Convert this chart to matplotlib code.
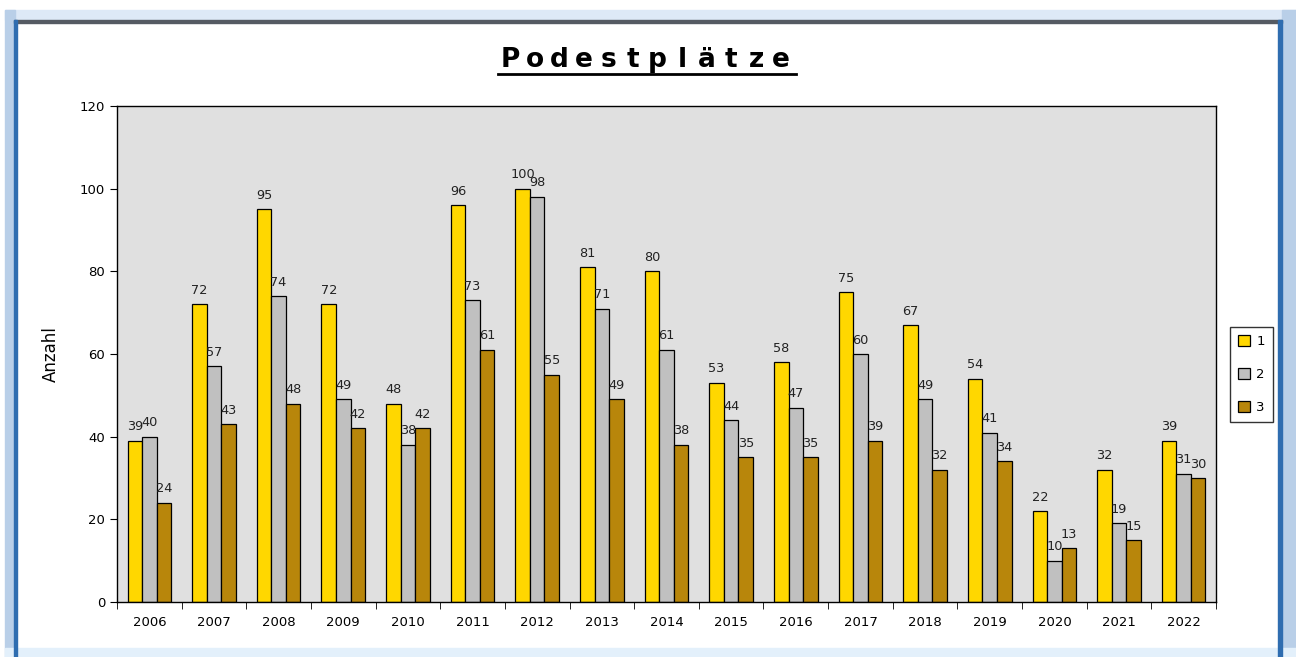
import matplotlib.pyplot as plt
from matplotlib.patches import Rectangle
import numpy as np

years = ['2006', '2007', '2008', '2009', '2010', '2011', '2012', '2013', '2014',
         '2015', '2016', '2017', '2018', '2019', '2020', '2021', '2022']
first = [39, 72, 95, 72, 48, 96, 100, 81, 80, 53, 58, 75, 67, 54, 22, 32, 39]
second = [40, 57, 74, 49, 38, 73, 98, 71, 61, 44, 47, 60, 49, 41, 10, 19, 31]
third = [24, 43, 48, 42, 42, 61, 55, 49, 38, 35, 35, 39, 32, 34, 13, 15, 30]
series = [('1', first, '#FFD700'), ('2', second, '#C0C0C0'), ('3', third, '#B8860B')]

W, H = 1296, 657
fig = plt.figure(figsize=(W / 100, H / 100), dpi=100)
fig.patch.set_facecolor('white')

# window frame around the chart
def px(x0, y0, w, h, color):
    fig.patches.append(Rectangle((x0 / W, 1 - (y0 + h) / H), w / W, h / H,
                                 transform=fig.transFigure, color=color, zorder=0))

px(5, 10, W - 5, 10, '#dde9f7')
px(5, 10, 10, H - 10, '#b9cfe8')
px(1282, 10, 14, H - 10, '#b9cfe8')
px(5, 648, W - 5, 9, '#e3f0fb')
px(14, 20, 1268, 3, '#555b63')
px(14, 20, 3, H - 20, '#2f6db0')
px(1278, 20, 4, H - 20, '#2f6db0')

ax = fig.add_axes([117 / W, 1 - 602 / H, (1216 - 117) / W, (602 - 106) / H])
ax.set_facecolor('#E0E0E0')

x = np.arange(len(years))
bw = 0.225
for i, (name, vals, col) in enumerate(series):
    pos = x + (i - 1) * bw
    ax.bar(pos, vals, bw, color=col, edgecolor='black', linewidth=0.9, label=name, zorder=2)
    for p, v in zip(pos, vals):
        ax.text(p, v + 1.8, str(v), ha='center', va='bottom', fontsize=9.3,
                color='#222222', zorder=3)

ax.set_xlim(-0.5, len(years) - 0.5)
ax.set_ylim(0, 120)
ax.set_yticks(range(0, 121, 20))
ax.set_xticks(x)
ax.set_xticklabels(years)
ax.set_xticks(np.arange(len(years) + 1) - 0.5, minor=True)
ax.tick_params(axis='x', which='major', length=0, labelsize=9.5, pad=10)
ax.tick_params(axis='x', which='minor', length=5, direction='out')
ax.tick_params(axis='y', length=5, labelsize=9.5, colors='black')
for s in ax.spines.values():
    s.set_linewidth(1.0)
ax.set_ylabel('Anzahl', fontsize=12, labelpad=14)

leg = ax.legend(loc='upper left', bbox_to_anchor=(1.0127, 0.5544), borderaxespad=0,
                frameon=True, fancybox=False, edgecolor='black', fontsize=9.5,
                handlelength=0.9, handleheight=0.9, handletextpad=0.5,
                borderpad=0.6, labelspacing=1.5)
leg.get_frame().set_linewidth(1.0)

# title with spaced letters and underline
title = 'Podestplätze'
step = 24.6
start = 500
for k, ch in enumerate(title):
    fig.text((start + k * step + 10) / W, 1 - 60 / H, ch, ha='center', va='center',
             fontsize=19, fontweight='bold', color='black')
fig.lines.append(plt.Line2D([498 / W, 796 / W], [1 - 74 / H, 1 - 74 / H],
                            transform=fig.transFigure, color='black', linewidth=2))

fig.savefig('out.png', dpi=100)
